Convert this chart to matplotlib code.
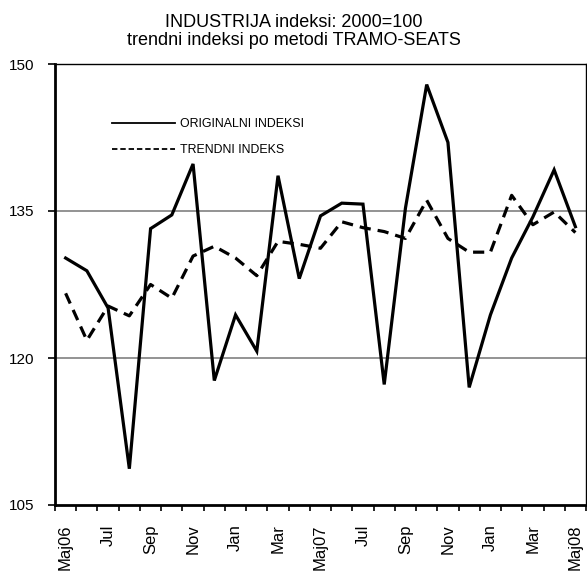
import matplotlib
matplotlib.use("Agg")
import matplotlib.pyplot as plt
import numpy as np

plt.rcParams['font.family'] = ['Liberation Sans', 'DejaVu Sans']

months = ["Maj06", "Jun", "Jul", "Avg", "Sep", "Okt", "Nov", "Dec", "Jan", "Feb", "Mar", "Apr",
          "Maj07", "Jun", "Jul", "Avg", "Sep", "Okt", "Nov", "Dec", "Jan", "Feb", "Mar", "Apr", "Maj08"]
original = [130.2, 128.9, 125.1, 108.7, 133.2, 134.6, 139.8, 117.7, 124.4, 120.7, 138.6, 128.1,
            134.5, 135.8, 135.7, 117.3, 135.3, 147.9, 142.0, 117.0, 124.4, 130.2, 134.4, 139.2, 133.4]
trend = [126.6, 121.8, 125.3, 124.3, 127.5, 126.1, 130.4, 131.4, 130.2, 128.4, 131.9, 131.6,
         131.2, 133.9, 133.3, 132.9, 132.2, 136.1, 132.2, 130.8, 130.8, 136.6, 133.6, 134.9, 132.8]
yticks = [105, 120, 135, 150]

W, H = 587, 572
fig = plt.figure(figsize=(W / 100, H / 100), dpi=100)
ax = fig.add_axes([55 / W, 1 - 505 / H, (586 - 55) / W, (505 - 64) / H])

x = np.arange(len(months))
l1, = ax.plot(x, original, color='black', lw=2.3, solid_joinstyle='miter', label='ORIGINALNI INDEKSI')
l2, = ax.plot(x, trend, color='black', lw=2.3, dashes=(3.5, 2.2), label='TRENDNI INDEKS')

ax.set_xlim(-0.5, len(months) - 0.5)
ax.set_ylim(105, 150)
ax.set_yticks(yticks)
ax.set_yticklabels([str(v) for v in yticks], fontsize=11)
for v in [120, 135]:
    ax.axhline(v, color='#808080', lw=1.2, zorder=0)

ax.set_xticks(x[::2])
ax.set_xticklabels(months[::2], rotation=90, fontsize=12)
ax.set_xticks(np.arange(-0.5, len(months), 1), minor=True)
ax.tick_params(axis='x', which='major', length=0, pad=14)
ax.tick_params(axis='x', which='minor', length=4, width=1.2, direction='out')
ax.tick_params(axis='y', length=5, width=1.2, direction='out', pad=10)

for s in ['left', 'bottom']:
    ax.spines[s].set_linewidth(2)
for s in ['top', 'right']:
    ax.spines[s].set_linewidth(1)

leg = ax.legend(handles=[l1, l2], loc='upper left', bbox_to_anchor=((112 - 55) / 531, 1 - (118 - 64) / 441),
                frameon=False, fontsize=8.9, handlelength=5.1, handletextpad=0.4, labelspacing=1.15,
                borderpad=0, borderaxespad=0)
for h in leg.legend_handles:
    h.set_linewidth(1.3)
leg.legend_handles[1].set_dashes((3, 1.6))

fig.text(0.5, 1 - 27 / H, "INDUSTRIJA indeksi: 2000=100", ha='center', va='baseline', fontsize=13)
fig.text(0.5, 1 - 45 / H, "trendni indeksi po metodi TRAMO-SEATS", ha='center', va='baseline', fontsize=13)

fig.savefig("out.png", dpi=100)
